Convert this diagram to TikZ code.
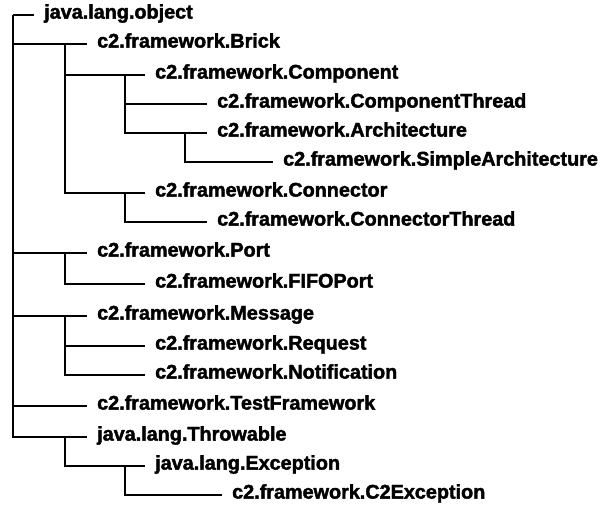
\documentclass[tikz,border=0pt]{standalone}
\usepackage{fontspec}
\setmainfont{Liberation Sans}[BoldFeatures={FakeBold=2}]
\begin{document}
\begin{tikzpicture}[x=1pt,y=-1pt,
  cls/.style={anchor=west,inner sep=0pt,text height=0.72em,text depth=0pt,
    font=\fontsize{19.8}{22}\selectfont\bfseries},
  link/.style={line width=1.6pt,shorten >=10pt}]
\useasboundingbox (0,0) rectangle (614,505);

% class names, one row per class
\node[cls] (obj)   at (44,15)  {java.lang.object};
\node[cls] (brick) at (97,44)  {c2.framework.Brick};
\node[cls] (comp)  at (155,75) {c2.framework.Component};
\node[cls] (compt) at (217,104){c2.framework.ComponentThread};
\node[cls] (arch)  at (217,133){c2.framework.Architecture};
\node[cls] (sarch) at (283,162){c2.framework.SimpleArchitecture};
\node[cls] (conn)  at (155,193){c2.framework.Connector};
\node[cls] (connt) at (217,222){c2.framework.ConnectorThread};
\node[cls] (port)  at (97,253) {c2.framework.Port};
\node[cls] (fifo)  at (155,284){c2.framework.FIFOPort};
\node[cls] (msg)   at (97,316) {c2.framework.Message};
\node[cls] (req)   at (155,346){c2.framework.Request};
\node[cls] (note)  at (155,375){c2.framework.Notification};
\node[cls] (test)  at (97,406) {c2.framework.TestFramework};
\node[cls] (thr)   at (97,437) {java.lang.Throwable};
\node[cls] (exc)   at (155,466){java.lang.Exception};
\node[cls] (c2exc) at (232,495){c2.framework.C2Exception};

% branch points where each subtree hangs off its parent's line
\coordinate (obj-b)   at (13,0 |- obj.west);
\coordinate (brick-b) at (65,0 |- brick.west);
\coordinate (comp-b)  at (125,0 |- comp.west);
\coordinate (arch-b)  at (185,0 |- arch.west);
\coordinate (conn-b)  at (125,0 |- conn.west);
\coordinate (port-b)  at (65,0 |- port.west);
\coordinate (msg-b)   at (65,0 |- msg.west);
\coordinate (thr-b)   at (65,0 |- thr.west);
\coordinate (exc-b)   at (125,0 |- exc.west);

% inheritance connectors
\draw[link] (obj-b) -- (obj.west);
\foreach \c in {brick,port,msg,test,thr} \draw[link] (obj-b) |- (\c.west);
\foreach \c in {comp,conn} \draw[link] (brick-b) |- (\c.west);
\foreach \c in {compt,arch} \draw[link] (comp-b) |- (\c.west);
\draw[link] (arch-b) |- (sarch.west);
\draw[link] (conn-b) |- (connt.west);
\draw[link] (port-b) |- (fifo.west);
\foreach \c in {req,note} \draw[link] (msg-b) |- (\c.west);
\draw[link] (thr-b) |- (exc.west);
\draw[link] (exc-b) |- (c2exc.west);
\end{tikzpicture}
\end{document}
